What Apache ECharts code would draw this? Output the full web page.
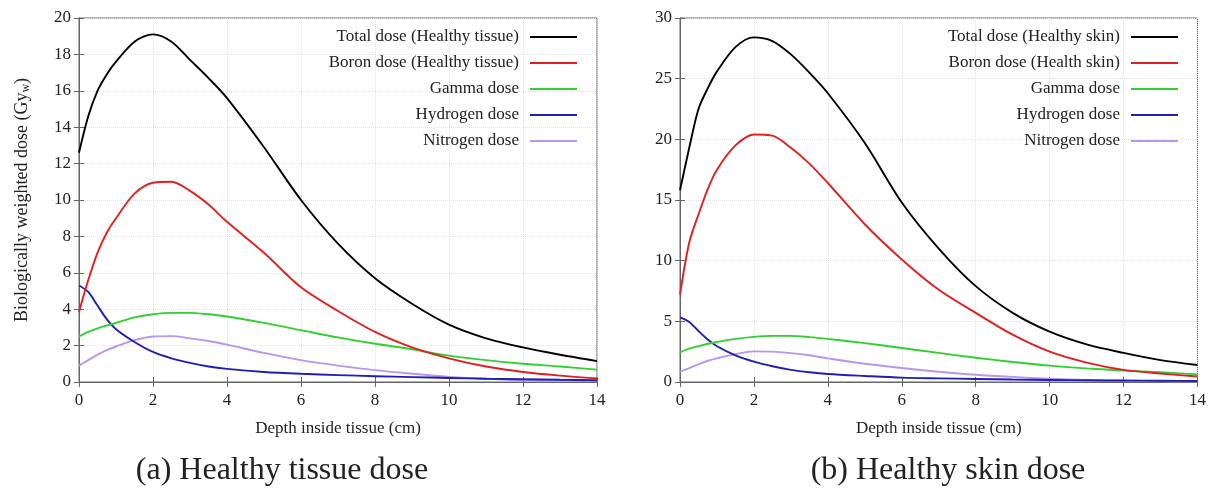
<!DOCTYPE html>
<html>
<head>
<meta charset="utf-8">
<script src="https://cdn.jsdelivr.net/npm/echarts@6/dist/echarts.min.js"></script>
<style>html,body{margin:0;padding:0;background:#fff;}#c{width:1209px;height:490px;}</style>
</head>
<body>
<div id="c"></div>
<script>
// ---- data ----
var depth = [0,0.25,0.5,0.75,1,1.5,2,2.5,3,3.5,4,5,6,7,8,9,10,11,12,13,14];

var totalTissue    = [12.6,14.6,16.0,16.9,17.6,18.7,19.1,18.7,17.7,16.7,15.6,12.9,10.0,7.6,5.7,4.3,3.15,2.4,1.9,1.5,1.15];
var boronTissue    = [3.85,5.6,7.1,8.2,9.0,10.35,10.95,11.0,10.5,9.75,8.8,7.1,5.2,3.9,2.75,1.9,1.3,0.85,0.55,0.35,0.2];
var gammaTissue    = [2.5,2.75,2.95,3.1,3.25,3.55,3.72,3.8,3.8,3.72,3.6,3.25,2.85,2.45,2.1,1.8,1.45,1.2,1.0,0.85,0.68];
var hydrogenTissue = [5.3,4.95,4.2,3.45,2.9,2.2,1.65,1.3,1.05,0.85,0.72,0.55,0.45,0.38,0.32,0.27,0.22,0.18,0.15,0.12,0.1];
var nitrogenTissue = [0.9,1.2,1.5,1.75,1.95,2.3,2.5,2.52,2.4,2.25,2.05,1.6,1.2,0.9,0.65,0.45,0.28,0.18,0.1,0.07,0.05];

var totalSkin    = [15.8,19.3,22.5,24.2,25.6,27.6,28.4,28.1,27.0,25.5,23.8,19.7,14.8,11.0,7.9,5.7,4.15,3.1,2.4,1.8,1.4];
var boronSkin    = [7.2,11.5,13.8,15.9,17.5,19.5,20.4,20.3,19.3,18.0,16.4,13.0,10.1,7.6,5.7,3.9,2.5,1.6,1.0,0.7,0.45];
var gammaSkin    = [2.45,2.75,2.95,3.15,3.3,3.55,3.72,3.8,3.8,3.7,3.55,3.2,2.8,2.4,2.0,1.65,1.35,1.12,0.95,0.8,0.63];
var hydrogenSkin = [5.33,4.95,4.2,3.5,2.95,2.2,1.68,1.3,1.0,0.8,0.66,0.5,0.36,0.3,0.25,0.2,0.17,0.14,0.12,0.1,0.08];
var nitrogenSkin = [0.85,1.15,1.45,1.75,1.95,2.3,2.52,2.5,2.38,2.2,1.95,1.5,1.15,0.85,0.6,0.42,0.27,0.17,0.1,0.07,0.05];

var namesTissue = ['Total dose (Healthy tissue)','Boron dose (Healthy tissue)','Gamma dose','Hydrogen dose','Nitrogen dose'];
var namesSkin   = ['Total dose (Healthy skin)','Boron dose (Health skin)','Gamma dose','Hydrogen dose','Nitrogen dose'];
var colors = ['#000000','#e02020','#30d030','#2020b0','#b896ec'];

var xTitle = 'Depth inside tissue (cm)';
var yTitle = 'Biologically weighted dose (Gy';
var captions = ['(a) Healthy tissue dose','(b) Healthy skin dose'];

// ---- build ----
var FONT = "'Liberation Serif','DejaVu Serif',serif";
function pairs(ys){ return depth.map(function(x,i){return [x, ys[i]];}); }

var grids = [
  {left:79, right:612, top:18, bottom:108, show:true, borderColor:'#666', borderWidth:1},
  {left:680, right:9, top:18, bottom:108, show:true, borderColor:'#666', borderWidth:1}
];

function xAx(g, pos, main){
  return {type:'value', gridIndex:g, position:pos, min:0, max:14, interval:2,
    axisLine:{show:true, lineStyle:{color:'#666'}},
    axisTick:{show:true, inside:true, length:5, lineStyle:{color:'#666'}},
    axisLabel:{show:main, color:'#222', fontFamily:FONT, fontSize:17, margin:10},
    splitLine:{show:main, lineStyle:{color:'#e2e2e2', type:'dotted'}},
    name: main ? xTitle : '', nameLocation:'middle', nameGap:38,
    nameTextStyle:{color:'#222', fontFamily:FONT, fontSize:17}
  };
}
function yAx(g, pos, main, max, itv, withName){
  var ax = {type:'value', gridIndex:g, position:pos, min:0, max:max, interval:itv,
    axisLine:{show:true, lineStyle:{color:'#666'}},
    axisTick:{show:true, inside:true, length:5, lineStyle:{color:'#666'}},
    axisLabel:{show:main, color:'#222', fontFamily:FONT, fontSize:17, margin:8},
    splitLine:{show:main, lineStyle:{color:'#e2e2e2', type:'dotted'}}
  };
  if (withName) {
    ax.name = '{t|' + yTitle + '}{s|w}{t|)}';
    ax.nameLocation = 'middle';
    ax.nameGap = 47;
    ax.nameTextStyle = {color:'#222', fontFamily:FONT, fontSize:18,
      rich:{t:{fontFamily:FONT, fontSize:18, color:'#222'}, s:{fontFamily:FONT, fontSize:12, color:'#222', padding:[7,0,0,0]}}};
  }
  return ax;
}

var xAxes = [xAx(0,'bottom',true), xAx(0,'top',false), xAx(1,'bottom',true), xAx(1,'top',false)];
var yAxes = [yAx(0,'left',true,20,2,true), yAx(0,'right',false,20,2,false), yAx(1,'left',true,30,5,false), yAx(1,'right',false,30,5,false)];

var series = [];
var tissueData = [totalTissue, boronTissue, gammaTissue, hydrogenTissue, nitrogenTissue];
var skinData = [totalSkin, boronSkin, gammaSkin, hydrogenSkin, nitrogenSkin];
tissueData.forEach(function(d,i){
  series.push({type:'line', name:namesTissue[i], xAxisIndex:0, yAxisIndex:0, data:pairs(d), smooth:0.3,
    symbol:'none', lineStyle:{color:colors[i], width:1.9}, itemStyle:{color:colors[i]}, z: 10-i});
});
skinData.forEach(function(d,i){
  series.push({type:'line', name:namesSkin[i], xAxisIndex:2, yAxisIndex:2, data:pairs(d), smooth:0.3,
    symbol:'none', lineStyle:{color:colors[i], width:1.9}, itemStyle:{color:colors[i]}, z: 10-i});
});

var rowTops = [37,63,89,115,141];
var legends = [];
function addLegends(names, right){
  names.forEach(function(n,i){
    legends.push({data:[n], right:right, top:rowTops[i]-10, padding:0, align:'right', orient:'vertical',
      icon:'rect', itemWidth:47, itemHeight:2, selectedMode:false,
      textStyle:{color:'#222', fontFamily:FONT, fontSize:17, lineHeight:20, padding:[0,6,0,0]}});
  });
}
addLegends(namesTissue, 632);
addLegends(namesSkin, 31);

var chart = echarts.init(document.getElementById('c'), null, {renderer:'canvas'});
chart.setOption({
  animation:false,
  backgroundColor:'#fff',
  grid: grids,
  xAxis: xAxes,
  yAxis: yAxes,
  legend: legends,
  series: series,
  graphic: [
    {type:'text', x:282, y:471, style:{text:captions[0], fontFamily:FONT, fontSize:32, fill:'#222', textAlign:'center', textVerticalAlign:'middle'}},
    {type:'text', x:948, y:471, style:{text:captions[1], fontFamily:FONT, fontSize:32, fill:'#222', textAlign:'center', textVerticalAlign:'middle'}}
  ]
});
</script>
</body>
</html>
